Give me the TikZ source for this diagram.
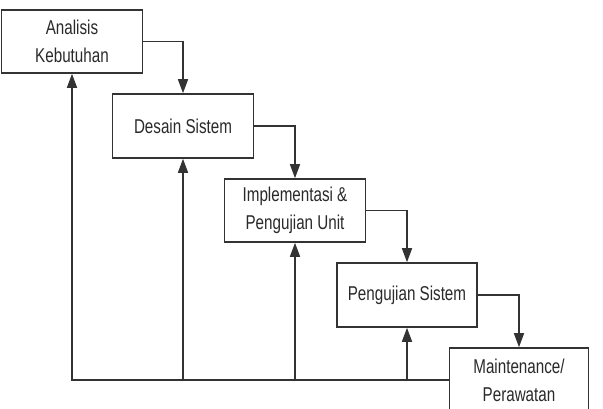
\documentclass[tikz,border=0pt]{standalone}
\usepackage{fontspec}
\setmainfont{Liberation Sans}[FakeStretch=0.76]
\usetikzlibrary{arrows.meta}
\definecolor{lncol}{HTML}{333333}
\definecolor{tx}{HTML}{2A2A2A}
\tikzset{
  box/.style={draw=lncol, line width=1.6pt, rectangle, align=center, text=tx,
    font=\fontsize{20}{28}\selectfont, inner sep=0pt},
  arr/.style={draw=lncol, line width=1.6pt, -{Triangle[length=14pt,width=10pt]}}
}
\begin{document}
\begin{tikzpicture}[x=1pt,y=-1pt]
\clip (0,0) rectangle (603,409);
\fill[white] (0,0) rectangle (603,409);
\node[box, minimum width=141pt, minimum height=63pt] (b1) at (72,41.5) {Analisis\\Kebutuhan};
\node[box, minimum width=141pt, minimum height=64pt] (b2) at (183,126) {Desain Sistem};
\node[box, minimum width=141pt, minimum height=63pt] (b3) at (295,210.5) {Implementasi \&\\Pengujian Unit};
\node[box, minimum width=140pt, minimum height=64pt] (b4) at (407,295) {Pengujian Sistem};
\node[box, minimum width=139pt, minimum height=64pt] (b5) at (519,380) {Maintenance/\\Perawatan};
\draw[arr] (b1.east) -| (b2.north);
\draw[arr] (b2.east) -| (b3.north);
\draw[arr] (b3.east) -| (b4.north);
\draw[arr] (b4.east) -| (b5.north);
\draw[arr] (b5.west) -| (b1.south);
\coordinate (c2) at (b2.south |- b5.west);
\coordinate (c3) at (b3.south |- b5.west);
\coordinate (c4) at (b4.south |- b5.west);
\draw[arr] (c2) -- (b2.south);
\draw[arr] (c3) -- (b3.south);
\draw[arr] (c4) -- (b4.south);
\end{tikzpicture}
\end{document}
